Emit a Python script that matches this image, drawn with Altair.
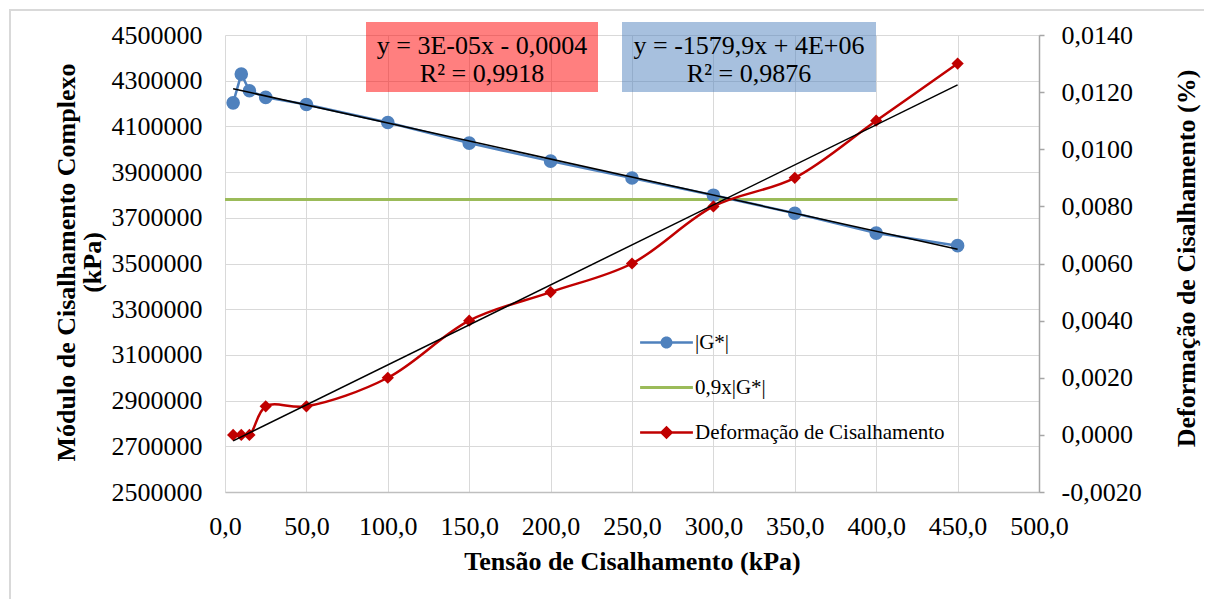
import altair as alt
import pandas as pd

# ---------------- data ----------------
tension = [5, 10, 15, 25, 50, 100, 150, 200, 250, 300, 350, 400, 450]
g_star = [4203000, 4329000, 4256000, 4227000, 4196000, 4117000, 4027000,
          3948000, 3874000, 3799000, 3720000, 3633000, 3578000]
strain = [0.0, 0.0, 0.0, 0.001, 0.001, 0.002, 0.004, 0.005, 0.006,
          0.008, 0.009, 0.011, 0.013]
limit_x = [0, 450]
limit_g = [3780000, 3780000]

series_names = ["|G*|", "0,9x|G*|", "Deformação de Cisalhamento"]
series_colors = ["#4F81BD", "#9BBB59", "#C00000"]
x_ticks = list(range(0, 501, 50))
left_ticks = list(range(2500000, 4500001, 200000))
right_ticks = [-0.002, 0.0, 0.002, 0.004, 0.006, 0.008, 0.010, 0.012, 0.014]
equations = ["y = 3E-05x - 0,0004\nR² = 0,9918", "y = -1579,9x + 4E+06\nR² = 0,9876"]
box_colors = ["#FF0000", "#4F81BD"]

# legend symbols (line + marker), unit coordinates
legend_shapes = [
    "M-3.3,-0.16L-0.6,-0.16L-0.6,0.16L-3.3,0.16Z"
    "M0.6,-0.16L3.3,-0.16L3.3,0.16L0.6,0.16Z"
    "M0.75,0A0.75,0.75,0,1,1,-0.75,0A0.75,0.75,0,1,1,0.75,0Z",
    "M-3.3,-0.2L3.3,-0.2L3.3,0.2L-3.3,0.2Z",
    "M-3.3,-0.16L-0.6,-0.16L-0.6,0.16L-3.3,0.16Z"
    "M0.6,-0.16L3.3,-0.16L3.3,0.16L0.6,0.16Z"
    "M0,-0.85L0.85,0L0,0.85L-0.85,0Z",
]

FONT = "Liberation Serif"

df_g = pd.DataFrame({"x": tension, "G": g_star})
df_lim = pd.DataFrame({"x": limit_x, "G": limit_g})
df_d = pd.DataFrame({"x": tension, "D": strain})
df_leg = pd.DataFrame({"series": series_names})
df_eq_red = pd.DataFrame({"label": [equations[0]]})
df_eq_blue = pd.DataFrame({"label": [equations[1]]})

comma1 = "replace(format(datum.value, '.1f'), '.', ',')"
comma4 = "replace(replace(format(datum.value, '.4f'), '.', ','), '\u2212', '-')"

x_enc = alt.X(
    "x:Q",
    scale=alt.Scale(domain=[0, 500], nice=False, zero=False),
    axis=alt.Axis(
        values=x_ticks, labelExpr=comma1, labelFlush=False, labelOverlap=False,
        labelFontSize=26, labelColor="black", labelPadding=21,
        ticks=False, grid=True, gridColor="#D9D9D9", gridWidth=1,
        domainColor="#BFBFBF", domainWidth=1.5,
        title="Tensão de Cisalhamento (kPa)", titleFontSize=26,
        titleFontWeight="bold", titleColor="black",
        titleBaseline="alphabetic", titleX=407, titleY=77,
    ),
)

left_y = alt.Y(
    "G:Q",
    scale=alt.Scale(domain=[2500000, 4500000], nice=False, zero=False),
    axis=alt.Axis(
        values=left_ticks, format="d", labelFlush=False, labelOverlap=False,
        labelFontSize=26, labelColor="black", labelPadding=23,
        ticks=False, domain=False, grid=True, gridColor="#D9D9D9", gridWidth=1,
        title=["Módulo de Cisalhamento Complexo", "(kPa)"],
        titleFontSize=26, titleFontWeight="bold", titleColor="black",
        titleAngle=270, titleBaseline="alphabetic", titleAlign="center",
        titleLineHeight=26, titleX=-151, titleY=227,
    ),
)

right_y = alt.Y(
    "D:Q",
    scale=alt.Scale(domain=[-0.002, 0.014], nice=False, zero=False),
    axis=alt.Axis(
        orient="right", values=right_ticks, labelExpr=comma4,
        labelFlush=False, labelOverlap=False,
        labelFontSize=26, labelColor="black", labelPadding=17,
        ticks=True, tickSize=5, tickColor="#A6A6A6", tickWidth=1.5,
        domainColor="#A6A6A6", domainWidth=1.5, grid=False,
        title="Deformação de Cisalhamento (%)",
        titleFontSize=26, titleFontWeight="bold", titleColor="black",
        titleAngle=270, titleBaseline="alphabetic", titleAlign="center",
        titleX=155, titleY=223,
    ),
)

# ---------------- left-axis group ----------------
g_line = alt.Chart(df_g).mark_line(color=series_colors[0], strokeWidth=2.5).encode(x=x_enc, y=left_y)
g_pts = alt.Chart(df_g).mark_point(filled=True, shape="circle", size=185, opacity=1,
                                   color=series_colors[0]).encode(x=x_enc, y=left_y)
lim_line = alt.Chart(df_lim).mark_line(color=series_colors[1], strokeWidth=3).encode(x=x_enc, y=left_y)
g_trend = alt.Chart(df_g).transform_regression("x", "G").mark_line(
    color="black", strokeWidth=1.5).encode(x=x_enc, y=left_y)

leg = alt.Legend(
    title=None, orient="none", legendX=431, legendY=297, padding=0,
    symbolSize=256, symbolStrokeWidth=0, symbolOpacity=1,
    labelFont=FONT, labelFontSize=21, labelColor="black", labelOffset=18,
    labelLimit=500, rowPadding=23,
)
legend_layer = alt.Chart(df_leg).mark_point(filled=True, size=0).encode(
    fill=alt.Fill("series:N", scale=alt.Scale(domain=series_names, range=series_colors), legend=leg),
    shape=alt.Shape("series:N", scale=alt.Scale(domain=series_names, range=legend_shapes), legend=leg),
)

box_red = alt.Chart(df_eq_red).mark_rect(color=box_colors[0], opacity=0.5).encode(
    x=alt.value(141), x2=alt.value(373), y=alt.value(-13), y2=alt.value(57))
box_blue = alt.Chart(df_eq_blue).mark_rect(color=box_colors[1], opacity=0.5).encode(
    x=alt.value(397), x2=alt.value(651), y=alt.value(-13), y2=alt.value(57))
txt_red = alt.Chart(df_eq_red).mark_text(
    font=FONT, fontSize=26, color="black", align="center", baseline="alphabetic",
    lineBreak="\n", lineHeight=28).encode(text="label:N", x=alt.value(257), y=alt.value(19))
txt_blue = alt.Chart(df_eq_blue).mark_text(
    font=FONT, fontSize=26, color="black", align="center", baseline="alphabetic",
    lineBreak="\n", lineHeight=28).encode(text="label:N", x=alt.value(524), y=alt.value(19))

frame = alt.Chart(df_eq_red).mark_rect(fill=None, stroke="#D9D9D9", strokeWidth=2).encode(
    x=alt.value(-215), x2=alt.value(1100), y=alt.value(-25), y2=alt.value(700))

left_group = alt.layer(frame, lim_line, g_line, g_pts, g_trend, legend_layer,
                       box_red, box_blue, txt_red, txt_blue)

# ---------------- right-axis group ----------------
d_line = alt.Chart(df_d).mark_line(color=series_colors[2], strokeWidth=2.5,
                                   interpolate="catmull-rom").encode(x=x_enc, y=right_y)
d_pts = alt.Chart(df_d).mark_point(filled=True, shape="diamond", size=150, opacity=1,
                                   color=series_colors[2]).encode(x=x_enc, y=right_y)
d_trend = alt.Chart(df_d).transform_regression("x", "D").mark_line(
    color="black", strokeWidth=1.5).encode(x=x_enc, y=right_y)

right_group = alt.layer(d_line, d_pts, d_trend)

chart = alt.layer(left_group, right_group).resolve_scale(y="independent").properties(
    width=814, height=457,
    padding={"left": 217, "top": 27, "right": 165, "bottom": 107},
    autosize=alt.AutoSizeParams(type="none"),
    background="white",
).configure(font=FONT).configure_view(stroke=None)

chart.save("out.html", embed_options={"renderer": "svg", "actions": False})
